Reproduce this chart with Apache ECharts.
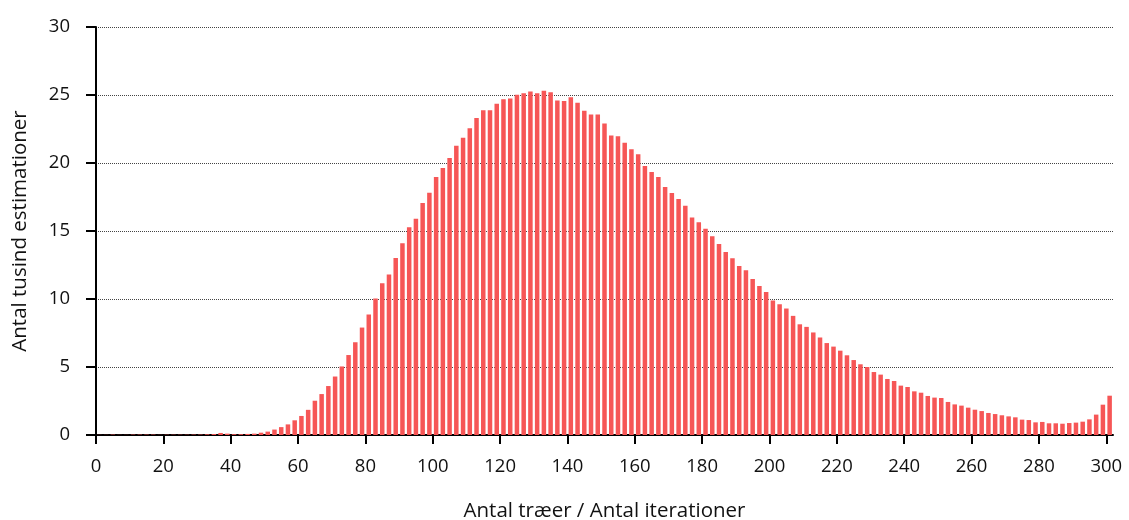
<!DOCTYPE html>
<html>
<head>
<meta charset="utf-8">
<script src="https://cdn.jsdelivr.net/npm/echarts@6/dist/echarts.min.js"></script>
<style>
html,body{margin:0;padding:0;background:#fff;}
#chart{width:1129px;height:520px;}
</style>
</head>
<body>
<div id="chart"></div>
<script>
// Number of trees / iterations (bar positions)
const xValues = [1,3,5,7,9,11,13,15,17,19,21,23,25,27,29,31,33,35,37,39,41,43,45,47,49,
  51,53,55,57,59,61,63,65,67,69,71,73,75,77,79,81,83,85,87,89,91,93,95,97,99,
  101,103,105,107,109,111,113,115,117,119,121,123,125,127,129,131,133,135,137,139,141,143,145,147,149,
  151,153,155,157,159,161,163,165,167,169,171,173,175,177,179,181,183,185,187,189,191,193,195,197,199,
  201,203,205,207,209,211,213,215,217,219,221,223,225,227,229,231,233,235,237,239,241,243,245,247,249,
  251,253,255,257,259,261,263,265,267,269,271,273,275,277,279,281,283,285,287,289,291,293,295,297,299,301];
// Thousands of estimations
const counts = [0.01,0.01,0.03,0.01,0.01,0.03,0.03,0.03,0.03,0.01,0.02,0.02,0.02,0.02,0.03,0.03,0.05,0.07,0.15,0.1,0.06,0.06,0.08,0.1,0.17,
  0.25,0.4,0.58,0.78,1.08,1.4,1.85,2.52,3.01,3.6,4.3,5.04,5.88,6.82,7.9,8.86,10.04,11.15,11.81,13.02,14.1,15.28,15.9,17.05,17.82,
  18.97,19.64,20.37,21.26,21.85,22.56,23.3,23.87,23.87,24.36,24.68,24.75,25.02,25.12,25.25,25.12,25.32,25.2,24.6,24.56,24.83,24.43,23.84,23.57,23.57,
  22.91,22.02,21.97,21.48,21.01,20.64,19.78,19.34,18.97,18.23,17.79,17.35,16.86,15.99,15.65,15.16,14.62,14.05,13.46,12.99,12.43,12.11,11.47,10.95,10.51,
  9.89,9.62,9.3,8.76,8.14,7.95,7.54,7.17,6.76,6.5,6.2,5.86,5.51,5.2,5.0,4.63,4.44,4.12,3.97,3.63,3.53,3.21,3.11,2.87,2.75,
  2.72,2.43,2.25,2.16,2.01,1.86,1.76,1.62,1.54,1.45,1.37,1.3,1.13,1.1,0.93,0.96,0.86,0.86,0.83,0.88,0.91,0.98,1.15,1.5,2.23,2.89];
const xTicks = [0,20,40,60,80,100,120,140,160,180,200,220,240,260,280,300];
const yTicks = [0,5,10,15,20,25,30];
const xName = 'Antal træer / Antal iterationer';
const yName = 'Antal tusind estimationer';

const FONT = 'Open Sans';
const chart = echarts.init(document.getElementById('chart'), null, {renderer: 'canvas'});
chart.setOption({
  animation: false,
  backgroundColor: '#ffffff',
  textStyle: {fontFamily: FONT},
  grid: {left: 96, top: 27, width: 1017, bottom: 85, containLabel: false, outerBoundsMode: 'none'},
  xAxis: {
    type: 'value', min: 0, max: 302,
    name: xName, nameLocation: 'middle', nameGap: 66,
    nameTextStyle: {fontFamily: FONT, fontSize: 20.5, color: '#111'},
    axisLine: {show: true, onZero: false, lineStyle: {color: '#000', width: 2}},
    axisTick: {show: true, length: 9, lineStyle: {color: '#000', width: 2}, customValues: xTicks},
    axisLabel: {fontFamily: FONT, fontSize: 18.5, color: '#111', margin: 22, customValues: xTicks},
    splitLine: {show: false}
  },
  yAxis: {
    type: 'value', min: 0, max: 30, interval: 5,
    name: yName, nameLocation: 'middle', nameGap: 65,
    nameTextStyle: {fontFamily: FONT, fontSize: 20.5, color: '#111'},
    axisLine: {show: true, lineStyle: {color: '#000', width: 2}},
    axisTick: {show: true, length: 10, lineStyle: {color: '#000', width: 2}, customValues: yTicks},
    axisLabel: {fontFamily: FONT, fontSize: 18.5, color: '#111', margin: 26, customValues: yTicks},
    splitLine: {show: true, lineStyle: {color: '#444', width: 1, type: [1, 1]}}
  },
  series: [{
    type: 'bar',
    data: xValues.map((x, i) => [x, counts[i]]),
    barWidth: 4.5,
    itemStyle: {color: '#f65656'},
    silent: true
  }]
});
</script>
</body>
</html>
